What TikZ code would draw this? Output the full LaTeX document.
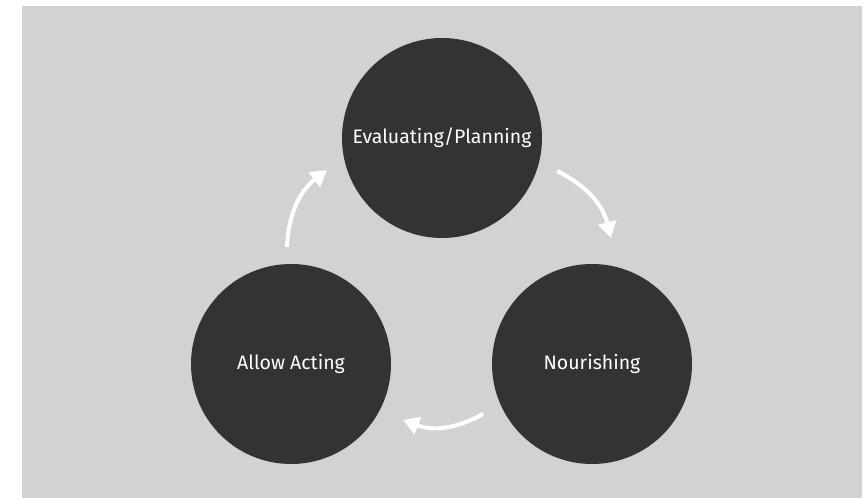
\documentclass[tikz,border=0pt]{standalone}
\usepackage{fontspec}
\setmainfont{Fira Sans}
\usetikzlibrary{calc,arrows.meta}
\definecolor{bggray}{HTML}{D1D2D4}
\definecolor{disc}{HTML}{323433}
\begin{document}
\begin{tikzpicture}
 \tikzstyle{stage}=[circle,fill=disc,draw=none,minimum size=4cm,inner sep=0pt,
 text=white,font=\fontsize{11.1}{13}\selectfont]
 \tikzstyle{flow}=[white,line width=2.3pt,-{Triangle[length=0.32cm,width=0.36cm]}]
\useasboundingbox (0,0) rectangle (17.3,9.96);
\fill[bggray] (0.44,0) rectangle (17.24,9.84);
\node[stage] (eval) at (8.84,7.2) {Evaluating/Planning};
\node[stage] (allow) at (5.82,2.68) {Allow Acting};
\node[stage] (nourish) at (11.84,2.68) {Nourishing};
\coordinate (up1) at ($(allow)+(-0.08,2.34)$);
\coordinate (up2) at ($(eval)+(-2.30,-0.64)$);
\coordinate (down1) at ($(eval)+(2.30,-0.66)$);
\coordinate (down2) at ($(nourish)+(0.38,2.52)$);
\coordinate (back1) at ($(nourish)+(-2.18,-1.00)$);
\coordinate (back2) at ($(allow)+(2.24,-1.12)$);
\draw[flow] (up1) to[bend left=25] (up2);
\draw[flow] (down1) to[bend left=25] (down2);
\draw[flow] (back1) to[bend left=25] (back2);
\end{tikzpicture}
\end{document}
